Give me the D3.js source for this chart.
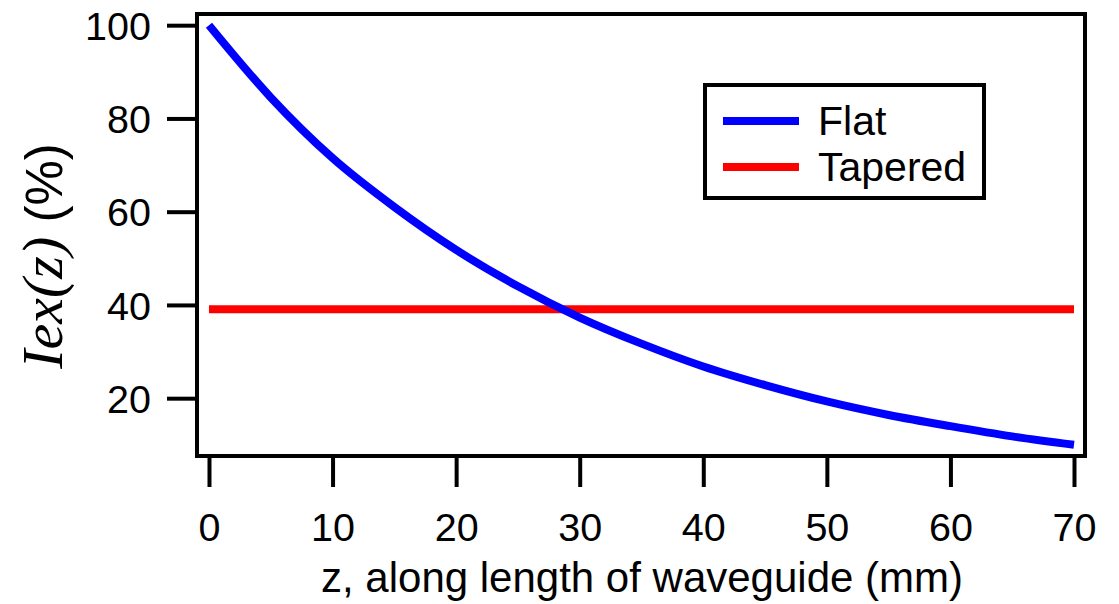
<!DOCTYPE html>
<html>
<head>
<meta charset="utf-8">
<script src="https://cdn.jsdelivr.net/npm/d3@7"></script>
<style>
	body { margin: 0; background: #fff; }
	svg { display: block; }
	text { font-family: 'Liberation Sans', Arial, sans-serif; fill: #000; }
</style>
</head>
<body>
<svg id="chart" width="1119" height="604"></svg>
<script>
// distance along the waveguide (mm)
const zValues = [0, 5, 10, 15, 20, 25, 30, 35, 40, 45, 50, 55, 60, 65, 70];
// Iex(z) for the flat guide
const flatValues = [100, 84.5, 71.5, 61, 51.8, 44, 37.3, 31.7, 26.8, 22.8, 19.3, 16.4, 14, 11.8, 10];
// tapered guide stays level
const taperedZ = [0, 70];
const taperedValues = [39.1, 39.1];

const xTicks = [0, 10, 20, 30, 40, 50, 60, 70];
const yTicks = [20, 40, 60, 80, 100];

const seriesNames = ['Flat', 'Tapered'];
const seriesColors = ['#0000ff', '#ff0000'];

const frame = { left: 197, right: 1085, top: 14, bottom: 456 };

const svg = d3.select('#chart');

const x = d3.scaleLinear()
	.domain([-0.97, 70.89])
	.range([frame.left, frame.right]);

const y = d3.scaleLinear()
	.domain([7.6, 102.4])
	.range([frame.bottom, frame.top]);

const line = d3.line()
	.curve(d3.curveMonotoneX)
	.x(d => x(d[0]))
	.y(d => y(d[1]));

function drawAxes() {
	const xAxis = d3.axisBottom(x)
		.tickValues(xTicks)
		.tickSize(31)
		.tickPadding(26)
		.tickSizeOuter(0);

	const gx = svg.append('g')
		.attr('transform', `translate(0,${frame.bottom})`)
		.call(xAxis);
	gx.select('.domain').remove();
	gx.selectAll('line').attr('stroke', '#000').attr('stroke-width', 4);
	gx.selectAll('text')
		.style('font-size', '39.5px')
		.attr('fill', '#000');

	const yAxis = d3.axisLeft(y)
		.tickValues(yTicks)
		.tickSize(30)
		.tickPadding(16)
		.tickSizeOuter(0);

	const gy = svg.append('g')
		.attr('transform', `translate(${frame.left},0)`)
		.call(yAxis);
	gy.select('.domain').remove();
	gy.selectAll('line').attr('stroke', '#000').attr('stroke-width', 4);
	gy.selectAll('text')
		.style('font-size', '39.5px')
		.attr('fill', '#000')
		.attr('dy', '0.36em');
}

function drawLines() {
	const flat = zValues.map((z, i) => [z, flatValues[i]]);
	const tapered = taperedZ.map((z, i) => [z, taperedValues[i]]);

	svg.append('path')
		.datum(tapered)
		.attr('d', line)
		.attr('fill', 'none')
		.attr('stroke', seriesColors[1])
		.attr('stroke-width', 8);

	svg.append('path')
		.datum(flat)
		.attr('d', line)
		.attr('fill', 'none')
		.attr('stroke', seriesColors[0])
		.attr('stroke-width', 8)
		.attr('stroke-linejoin', 'round');
}

function drawFrame() {
	svg.append('rect')
		.attr('x', frame.left)
		.attr('y', frame.top)
		.attr('width', frame.right - frame.left)
		.attr('height', frame.bottom - frame.top)
		.attr('fill', 'none')
		.attr('stroke', '#000')
		.attr('stroke-width', 4);
}

function drawLegend() {
	const g = svg.append('g').attr('transform', 'translate(705,85)');

	g.append('rect')
		.attr('width', 279)
		.attr('height', 113)
		.attr('fill', '#fff')
		.attr('stroke', '#000')
		.attr('stroke-width', 4);

	const item = g.selectAll('.item')
		.data(seriesNames)
		.enter()
		.append('g')
		.attr('class', 'item')
		.attr('transform', (d, i) => `translate(0,${36 + i * 46})`);

	item.append('line')
		.attr('x1', 18)
		.attr('x2', 94)
		.attr('stroke', (d, i) => seriesColors[i])
		.attr('stroke-width', 8);

	item.append('text')
		.attr('x', 113)
		.attr('dy', '0.34em')
		.style('font-size', '41px')
		.text(d => d);
}

function drawTitles() {
	svg.append('text')
		.attr('x', 642)
		.attr('y', 592)
		.attr('text-anchor', 'middle')
		.style('font-size', '42px')
		.text('z, along length of waveguide (mm)');

	const yt = svg.append('text')
		.attr('transform', 'translate(62,256) rotate(-90)')
		.attr('text-anchor', 'middle')
		.style('font-size', '51px');
	yt.append('tspan')
		.style('font-family', "'Liberation Serif', 'DejaVu Serif', serif")
		.style('font-style', 'italic')
		.style('font-size', '58px')
		.text('Iex(z)');
	yt.append('tspan')
		.text(' (%)');
}

drawLines();
drawFrame();
drawAxes();
drawLegend();
drawTitles();
</script>
</body>
</html>
